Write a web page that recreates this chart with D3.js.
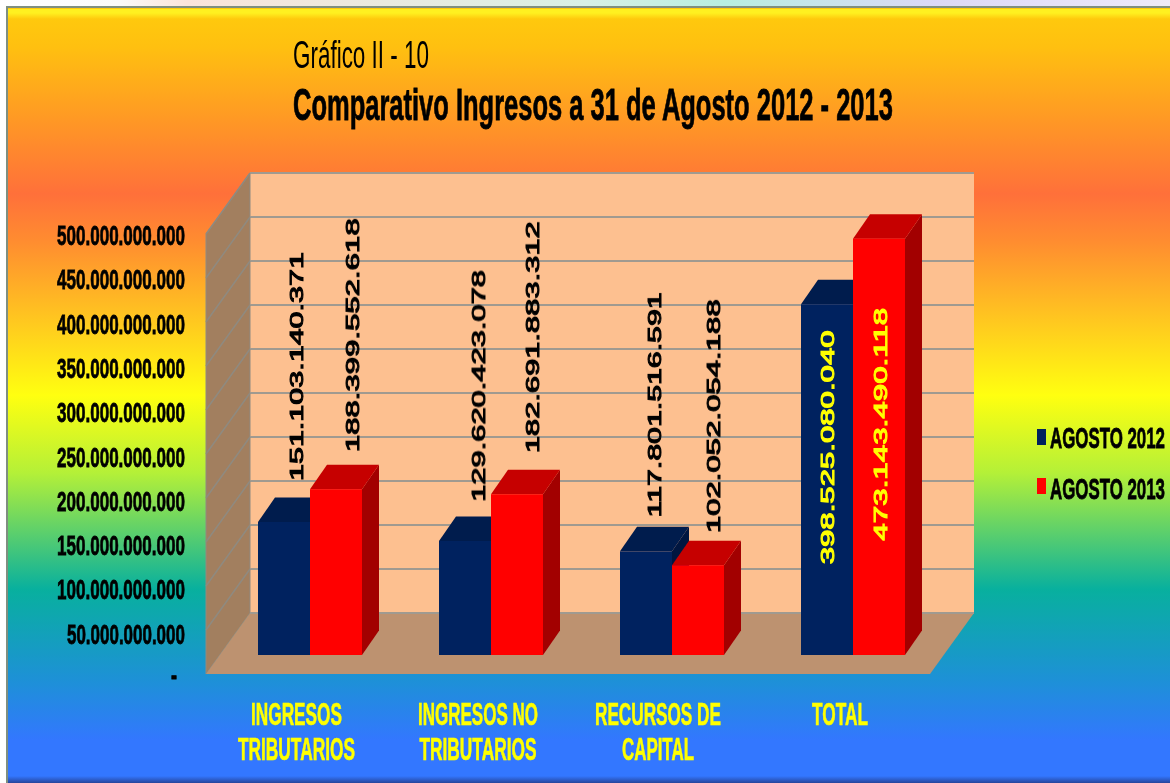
<!DOCTYPE html>
<html><head><meta charset="utf-8">
<script src="https://cdn.jsdelivr.net/npm/d3@7/dist/d3.min.js"></script>
<style>html,body{margin:0;padding:0;background:#fff;overflow:hidden}svg{display:block}text{font-family:"Liberation Sans",Arial,sans-serif}</style>
</head><body><svg id="c" width="1170" height="783"></svg>
<script>
const categories=[["INGRESOS","TRIBUTARIOS"],["INGRESOS NO","TRIBUTARIOS"],["RECURSOS DE","CAPITAL"],["TOTAL"]];
const seriesNames=["AGOSTO 2012","AGOSTO 2013"];
const agosto2012=[151103140371,129620423078,117801516591,398525080040];
const agosto2013=[188399552618,182691883312,102052054188,473143490118];
const tickValues=[0,50e9,100e9,150e9,200e9,250e9,300e9,350e9,400e9,450e9,500e9];
const titleLine1="Gráfico II - 10";
const titleLine2="Comparativo Ingresos a 31 de Agosto 2012 - 2013";

const svg=d3.select("#c");
const defs=svg.append("defs");
function grad(id,stops,horizontal){
  const g=defs.append("linearGradient").attr("id",id).attr("x1",0).attr("y1",0).attr("x2",horizontal?1:0).attr("y2",horizontal?0:1);
  stops.forEach(s=>{const st=g.append("stop").attr("offset",s[0]).attr("stop-color",s[1]); if(s[2]!==undefined) st.attr("stop-opacity",s[2]);});
}
grad("bg",[[0,"#FFCC0C"],[.05,"#FFC010"],[.24,"#FF703A"],[.3,"#FF8C30"],[.5,"#FFFF10"],[.6,"#B4F038"],[.75,"#08B09E"],[.87,"#1E90D8"],[.945,"#3377FF"],[1,"#3377FF"]]);
grad("strip",[[0,"#ffffff"],[.1,"#fafafa"],[.16,"#fbe4da"],[.5,"#d8f0e4"],[.62,"#b8eee0"],[.8,"#dcd8f6"],[1,"#eeeaf8"]],true);
grad("topGlow",[[0,"#FFF020",1],[.4,"#FFF020",1],[1,"#FFF020",0]]);
grad("botGlow",[[0,"#3377FF",1],[1,"#27459A",1]]);
const blur=defs.append("filter").attr("id","soft").attr("x","-5%").attr("y","-5%").attr("width","110%").attr("height","110%");
blur.append("feGaussianBlur").attr("stdDeviation",0.45);

svg.append("rect").attr("width",1170).attr("height",6).attr("fill","url(#strip)");
svg.append("rect").attr("x",6).attr("y",6).attr("width",1164).attr("height",777).attr("fill","#7f8f80");
svg.append("rect").attr("x",8).attr("y",8).attr("width",1162).attr("height",775).attr("fill","url(#bg)");
svg.append("rect").attr("x",8).attr("y",9).attr("width",1162).attr("height",10).attr("fill","url(#topGlow)");
svg.append("rect").attr("x",8).attr("y",776).attr("width",1162).attr("height",7).attr("fill","url(#botGlow)");

// scales
const yFront=d3.scaleLinear().domain([0,500e9]).range([678,235]);
const yBar=d3.scaleLinear().domain([0,500e9]).range([655,215]);
const yWall=d3.scaleLinear().domain([0,500e9]).range([613,173]);
const x0=d3.scaleBand().domain(categories.map(c=>c.join(" "))).range([258,905]).paddingInner(77/181).paddingOuter(0);
const x1=d3.scaleBand().domain(seriesNames).range([0,x0.bandwidth()]);
const depth={dx:44,dy:-61}, barD={dx:17,dy:-24.5};
const wall={l:250,r:974};
const axisBase=674;

const chart=svg.append("g").attr("filter","url(#soft)");
chart.append("rect").attr("x",wall.l).attr("y",yWall(500e9)).attr("width",wall.r-wall.l).attr("height",yWall(0)-yWall(500e9)).attr("fill","#FDC090");
chart.append("path").attr("d",`M${wall.l-depth.dx},${axisBase}L${wall.l-depth.dx},${yWall(500e9)-depth.dy}L${wall.l},${yWall(500e9)}L${wall.l},${yWall(0)}Z`).attr("fill","#A27F5F").attr("stroke","#8f8a80").attr("stroke-width",1);
chart.append("path").attr("d",`M${wall.l-depth.dx},${axisBase}L${wall.l},${yWall(0)}L${wall.r},${yWall(0)}L${wall.r-depth.dx},${axisBase}Z`).attr("fill","#BD9270");
tickValues.forEach(t=>{
  const y=yWall(t);
  chart.append("line").attr("x1",wall.l).attr("x2",wall.r).attr("y1",y).attr("y2",y).attr("stroke","#A09A90").attr("stroke-width",2);
  if(t>0) chart.append("line").attr("x1",wall.l-depth.dx).attr("x2",wall.l).attr("y1",y-depth.dy).attr("y2",y).attr("stroke","#8f8a80").attr("stroke-width",1.5);
});
// bars
const palette={[seriesNames[0]]:{front:"#00205E",top:"#001A4E",side:"#00163F"},[seriesNames[1]]:{front:"#FF0000",top:"#C60000",side:"#A20000"}};
const rows=[];
seriesNames.forEach((s,si)=>{const vals=si?agosto2013:agosto2012;
  categories.forEach((c,ci)=>rows.push({s,si,ci,cat:c.join(" "),v:vals[ci]}));});
chart.selectAll("g.bar").data(rows).join("g").attr("class","bar").each(function(d){
  const g=d3.select(this),x=x0(d.cat)+x1(d.s),w=x1.bandwidth(),t=yBar(d.v),b=yBar(0),p=palette[d.s];
  g.append("path").attr("d",`M${x+w},${t}L${x+w+barD.dx},${t+barD.dy}L${x+w+barD.dx},${b+barD.dy}L${x+w},${b}Z`).attr("fill",p.side);
  g.append("path").attr("d",`M${x},${t}L${x+barD.dx},${t+barD.dy}L${x+w+barD.dx},${t+barD.dy}L${x+w},${t}Z`).attr("fill",p.top);
  g.append("rect").attr("x",x).attr("y",t).attr("width",w).attr("height",b-t).attr("fill",p.front);
});

const textLayer=svg.append("g").attr("filter","url(#soft)");
// places a text so it spans a given width, squeezing or stretching glyphs
function fitted(str,x,y,width,o){
  const t=textLayer.append("text").attr("font-size",o.size).attr("font-weight",o.weight||400).attr("fill",o.fill||"#000").text(str);
  if(o.stroke) t.attr("stroke",o.fill||"#000").attr("stroke-width",o.stroke);
  const nat=t.node().getComputedTextLength();
  const sx=width/nat;
  const ax=o.anchor==="end"?-width:o.anchor==="middle"?-width/2:0;
  t.attr("transform",`translate(${x},${y}) rotate(${o.rot||0}) translate(${ax},0) scale(${sx},1)`);
  return t;
}
const fmt=v=>d3.format(",d")(v).replace(/,/g,".");
// value labels: [x from bar centre, gap above bar top, length] in bar order
const labelPlace=new Map([
 ["0-0",[12,41,229]],["1-0",[16,37,234]],["0-1",[13,39,232]],["1-1",[15,41,232]],
 ["0-2",[8,34,225]],["1-2",[15,32,234]],["0-3",[0,-260,234]],["1-3",[1,-302,233]]]);
rows.forEach(d=>{
  const p=labelPlace.get(d.si+"-"+d.ci);
  const cx=x0(d.cat)+x1(d.s)+x1.bandwidth()/2;
  fitted(fmt(d.v),cx+p[0]+7,yBar(d.v)-p[1],p[2],{size:19,rot:-90,stroke:1,fill:d.ci===3?"#FFFF00":"#000"});
});
// y axis labels
tickValues.forEach(t=>{
  const s=t===0?"-":fmt(t);
  fitted(s,t===0?177:185,yFront(t)+(t===0?7:10),t===0?6:(s.length===15?128:118),{size:28,weight:700,stroke:.8,anchor:"end"});
});
// category labels
const catWidths=[[91,117],[120,117],[126,72],[56]];
const catShift=[-13.5,-13,-14,-13];
categories.forEach((c,ci)=>{
  const cx=x0(c.join(" "))+x0.bandwidth()/2+catShift[ci];
  c.forEach((line,i)=>fitted(line,cx,725+i*35,catWidths[ci][i],{size:31,weight:700,fill:"#FFFF00",stroke:.6,anchor:"middle"}));
});
// titles
fitted(titleLine1,293,68,136,{size:39});
fitted(titleLine2,293,120,600,{size:44,weight:700,stroke:.8});
// legend
seriesNames.forEach((s,i)=>{
  const y=429+i*49;
  svg.append("rect").attr("x",1037).attr("y",y).attr("width",9).attr("height",16).attr("fill",palette[s].front);
  fitted(s,1050,448+i*50.5,115,{size:30,weight:700,stroke:.8});
});
</script></body></html>
